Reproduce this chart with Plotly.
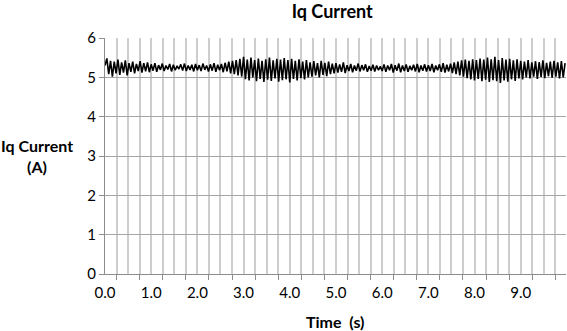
import plotly.graph_objects as go

# Iq current samples, one list per second (0.04 s spacing)
sec0 = [5.30, 5.48, 5.08, 5.42, 5.02, 5.40, 5.10, 5.45, 5.06, 5.38, 5.12, 5.43, 5.05, 5.36, 5.14, 5.40, 5.10, 5.34, 5.16, 5.41, 5.12, 5.36, 5.15, 5.38, 5.13]
sec1 = [5.33, 5.17, 5.36, 5.14, 5.31, 5.19, 5.35, 5.16, 5.30, 5.20, 5.34, 5.15, 5.32, 5.18, 5.29, 5.21, 5.33, 5.17, 5.35, 5.16, 5.30, 5.19, 5.32, 5.15, 5.34]
sec2 = [5.18, 5.31, 5.16, 5.35, 5.19, 5.30, 5.15, 5.33, 5.17, 5.36, 5.14, 5.32, 5.18, 5.34, 5.13, 5.37, 5.15, 5.40, 5.10, 5.42, 5.08, 5.44, 5.05, 5.47, 5.02]
sec3 = [5.52, 4.95, 5.45, 4.92, 5.50, 5.00, 5.44, 4.90, 5.48, 4.96, 5.42, 4.88, 5.46, 4.94, 5.50, 4.91, 5.43, 4.97, 5.47, 4.89, 5.45, 4.93, 5.49, 4.95, 5.44]
sec4 = [4.87, 5.47, 4.96, 5.42, 4.92, 5.46, 4.98, 5.40, 4.95, 5.44, 5.00, 5.38, 5.02, 5.41, 5.05, 5.36, 5.00, 5.42, 5.06, 5.37, 5.03, 5.40, 5.08, 5.35, 5.10]
sec5 = [5.36, 5.12, 5.33, 5.14, 5.38, 5.11, 5.31, 5.16, 5.34, 5.13, 5.30, 5.17, 5.35, 5.15, 5.31, 5.18, 5.33, 5.14, 5.29, 5.17, 5.32, 5.15, 5.30, 5.18, 5.28]
sec6 = [5.16, 5.33, 5.14, 5.30, 5.18, 5.34, 5.12, 5.31, 5.17, 5.35, 5.13, 5.30, 5.16, 5.33, 5.14, 5.29, 5.18, 5.32, 5.15, 5.34, 5.13, 5.30, 5.17, 5.33, 5.15]
sec7 = [5.31, 5.16, 5.34, 5.13, 5.30, 5.18, 5.33, 5.14, 5.36, 5.12, 5.32, 5.15, 5.35, 5.11, 5.38, 5.08, 5.40, 5.05, 5.43, 5.02, 5.45, 4.98, 5.42, 4.95, 5.46]
sec8 = [4.92, 5.44, 4.96, 5.48, 4.90, 5.45, 4.94, 5.50, 4.88, 5.46, 4.93, 5.52, 4.90, 5.44, 4.86, 5.49, 4.92, 5.45, 4.89, 5.47, 4.95, 5.43, 4.91, 5.46, 4.97]
sec9 = [5.42, 4.95, 5.40, 5.00, 5.44, 4.97, 5.38, 5.02, 5.41, 4.96, 5.39, 5.01, 5.43, 4.98, 5.37, 5.03, 5.40, 4.99, 5.42, 5.02, 5.38, 4.97, 5.41, 5.00, 5.36]

current = sec0 + sec1 + sec2 + sec3 + sec4 + sec5 + sec6 + sec7 + sec8 + sec9
sample_step = 0.04
time = [round(i * sample_step, 2) for i in range(len(current))]

x_labels = [0, 1, 2, 3, 4, 5, 6, 7, 8, 9]
x_tick_marks = [0.25 + 0.5 * k for k in range(20)]
y_ticks = [0, 1, 2, 3, 4, 5, 6]

FONT = "Lato, 'Open Sans', sans-serif"

fig = go.Figure()
fig.add_trace(go.Scatter(x=time, y=current, mode="lines",
                         line=dict(color="black", width=1.6),
                         showlegend=False, hoverinfo="skip"))
# invisible trace to anchor the label axis
fig.add_trace(go.Scatter(x=[0, 9.98], y=[None, None], xaxis="x2",
                         mode="lines", showlegend=False, hoverinfo="skip"))

fig.update_layout(
    width=567, height=331,
    margin=dict(l=105, r=1, t=38, b=57),
    paper_bgcolor="white", plot_bgcolor="white",
    font=dict(family=FONT, size=15, color="black"),
    title=dict(text="<b>Iq Current</b>", x=0.586, xanchor="center",
               y=0.966, yanchor="middle", yref="container",
               font=dict(family=FONT, size=18, color="black")),
    xaxis=dict(range=[0, 9.98], showgrid=False, zeroline=False,
               tickmode="array", tickvals=x_tick_marks, showticklabels=False,
               ticks="outside", ticklen=5, tickcolor="#8c8c8c", tickwidth=1,
               showline=True, linecolor="#8c8c8c", linewidth=1,
               minor=dict(dtick=0.25, tick0=0, showgrid=True,
                          gridcolor="#cdcdcd", gridwidth=1.5, ticks="")),
    xaxis2=dict(range=[0, 9.98], overlaying="x", side="bottom",
                showgrid=False, zeroline=False, showline=False,
                tickmode="array", tickvals=x_labels, tickformat=".1f",
                ticks="", ticklabelstandoff=8,
                tickfont=dict(family=FONT, size=15, color="black")),
    yaxis=dict(range=[0, 6], tickmode="array", tickvals=y_ticks,
               showgrid=True, gridcolor="#a6a6a6", gridwidth=1,
               zeroline=False, showline=True, linecolor="#8c8c8c", linewidth=1,
               ticks="outside", ticklen=5, tickcolor="#8c8c8c",
               tickfont=dict(family=FONT, size=15, color="black")),
    annotations=[
        dict(text="<b>Iq Current</b><br><b>(A)</b>", xref="paper", yref="paper",
             x=-0.148, y=0.498, xanchor="center", yanchor="middle",
             showarrow=False, font=dict(family=FONT, size=16, color="black")),
        dict(text="<b>Time\u00a0\u00a0(s)</b>", xref="paper", yref="paper",
             x=0.501, y=-0.203, xanchor="center", yanchor="middle",
             showarrow=False, font=dict(family=FONT, size=16, color="black")),
    ],
)

fig.write_html("out.html")
